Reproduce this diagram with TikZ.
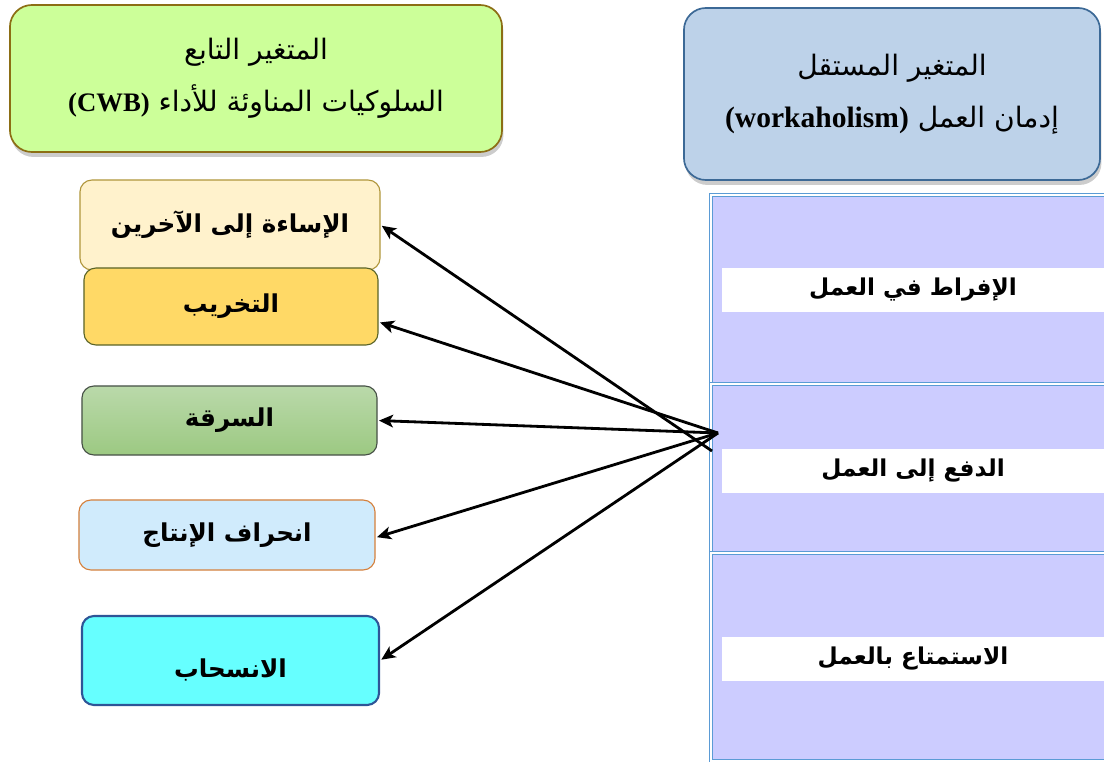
\documentclass[tikz,border=0pt]{standalone}
\usepackage{fontspec}
\setmainfont{Liberation Serif}
\newfontfamily\arabicfont[Script=Arabic]{DejaVu Sans}
\TeXXeTstate=1
\usepackage{tikz}
\usetikzlibrary{arrows.meta, positioning, shadows, calc}
\definecolor{dep_fill}{RGB}{204, 255, 153}
\definecolor{dep_edge}{RGB}{140, 110, 20}
\definecolor{ind_fill}{RGB}{189, 210, 233}
\definecolor{ind_edge}{RGB}{60, 105, 150}
\definecolor{abuse_fill}{RGB}{255, 242, 204}
\definecolor{abuse_edge}{RGB}{176, 150, 60}
\definecolor{sabot_fill}{RGB}{255, 217, 102}
\definecolor{sabot_edge}{RGB}{90, 100, 40}
\definecolor{theft_top}{RGB}{186, 217, 170}
\definecolor{theft_bot}{RGB}{156, 201, 130}
\definecolor{theft_edge}{RGB}{70, 80, 70}
\definecolor{dev_fill}{RGB}{208, 235, 252}
\definecolor{dev_edge}{RGB}{213, 128, 60}
\definecolor{wd_fill}{RGB}{102, 255, 255}
\definecolor{wd_edge}{RGB}{46, 85, 151}
\definecolor{row_fill}{RGB}{204, 204, 255}
\definecolor{row_edge}{RGB}{91, 155, 213}
\tikzstyle{titlebox} = [rectangle, rounded corners=0.55cm, line width=1.2pt, align=center, drop shadow={opacity=0.4, shadow xshift=1pt, shadow yshift=-3.5pt}, font=\arabicfont\fontsize{20}{37}\selectfont]
\tikzstyle{behaviour} = [rectangle, rounded corners=0.3cm, line width=0.8pt, minimum width=7.4cm, text centered, font=\arabicfont\bfseries\fontsize{17.5}{20}\selectfont]
\tikzstyle{dimrow} = [rectangle, draw=row_edge, double=white, double distance=0.8pt, line width=0.7pt, fill=row_fill, minimum width=10.025cm]
\tikzstyle{dimlabel} = [rectangle, fill=white, minimum width=9.55cm, minimum height=1.1cm, inner sep=0pt, font=\arabicfont\bfseries\fontsize{16.5}{20}\selectfont]
\tikzstyle{arrow} = [line width=2pt, -{Stealth[length=10pt, width=9pt, inset=2.5pt]}, shorten >=1pt]
\begin{document}
\begin{tikzpicture}[x=0.025cm, y=-0.025cm]
\useasboundingbox (0,0) rectangle (1104,762);

% Title boxes
\node[titlebox, fill=dep_fill, draw=dep_edge, minimum width=12.3cm, minimum height=3.675cm] (dep) at (256,78.5) {\beginR المتغير التابع\endR\\ \beginR السلوكيات المناوئة للأداء {\normalfont\bfseries\fontsize{19}{37}\selectfont\beginL(CWB)\endL}\endR};
\node[titlebox, fill=ind_fill, draw=ind_edge, minimum width=10.4cm, minimum height=4.3cm] (ind) at (892,94) {\beginR المتغير المستقل\endR\\ \beginR إدمان العمل {\normalfont\bfseries\fontsize{21}{37}\selectfont\beginL(workaholism)\endL}\endR};

% Dimensions of workaholism
\node[dimrow, minimum height=4.725cm] (row1) at (911.5,289.5) {};
\node[dimrow, minimum height=4.225cm] (row2) at (911.5,468.5) {};
\node[dimrow, minimum height=5.2cm] (row3) at (911.5,657) {};
\node[dimlabel] (excess) at (913,290) {\beginR الإفراط في العمل\endR};
\node[dimlabel] (drive) at (913,471) {\beginR الدفع إلى العمل\endR};
\node[dimlabel] (enjoy) at (913,659) {\beginR الاستمتاع بالعمل\endR};

% Counterproductive behaviours
\node[behaviour, fill=abuse_fill, draw=abuse_edge, minimum width=7.5cm, minimum height=2.25cm] (abuse) at (230,225) {\beginR الإساءة إلى الآخرين\endR};
\node[behaviour, fill=sabot_fill, draw=sabot_edge, minimum width=7.35cm, minimum height=1.925cm] (sabotage) at (231,306.5) {\beginR التخريب\endR};
\node[behaviour, top color=theft_top, bottom color=theft_bot, draw=theft_edge, minimum width=7.375cm, minimum height=1.725cm] (theft) at (229.5,420.5) {\beginR السرقة\endR};
\node[behaviour, fill=dev_fill, draw=dev_edge, minimum width=7.4cm, minimum height=1.75cm] (deviance) at (227,535) {\beginR انحراف الإنتاج\endR};
\node[behaviour, fill=wd_fill, draw=wd_edge, line width=1.5pt, minimum width=7.425cm, minimum height=2.225cm, text height=1cm, text depth=0.15cm] (withdraw) at (230.5,660.5) {\beginR الانسحاب\endR};

% Arrows
\coordinate (hub) at (718,433);
\coordinate (hubend) at (712,451);
\draw[arrow] (hubend) -- (abuse.east);
\draw[arrow] (hub) -- (sabotage.-6.4);
\draw[arrow] (hub) -- (theft.east);
\draw[arrow] (hub) -- (deviance.-1.9);
\draw[arrow] (hub) -- (withdraw.east);

\end{tikzpicture}
\end{document}
